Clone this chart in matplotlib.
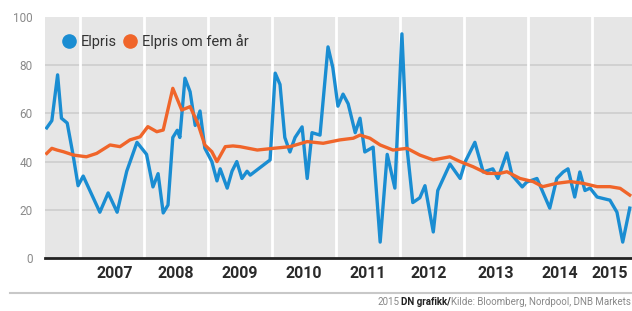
import matplotlib
matplotlib.use("Agg")
import matplotlib.pyplot as plt
from matplotlib.lines import Line2D

# values (decimal year, price)
elpris_t = [2006.48, 2006.56, 2006.65, 2006.71, 2006.80, 2006.89, 2006.97, 2007.05,
            2007.31, 2007.44, 2007.58, 2007.73, 2007.89, 2008.04, 2008.14, 2008.22,
            2008.30, 2008.375, 2008.45, 2008.52, 2008.56, 2008.64, 2008.72, 2008.80,
            2008.875, 2008.95, 2009.06, 2009.14, 2009.19, 2009.30, 2009.375, 2009.45,
            2009.53, 2009.61, 2009.66, 2009.97, 2010.05, 2010.125, 2010.20, 2010.28,
            2010.36, 2010.47, 2010.55, 2010.625, 2010.75, 2010.875, 2010.95, 2011.03,
            2011.11, 2011.19, 2011.30, 2011.375, 2011.45, 2011.58, 2011.69, 2011.80,
            2011.92, 2012.03, 2012.11, 2012.20, 2012.31, 2012.39, 2012.52, 2012.59,
            2012.78, 2012.94, 2013.02, 2013.17, 2013.30, 2013.45, 2013.53, 2013.67,
            2013.75, 2013.91, 2013.98, 2014.14, 2014.34, 2014.45, 2014.55, 2014.625,
            2014.73, 2014.81, 2014.89, 2014.97, 2015.08, 2015.28, 2015.39, 2015.48,
            2015.59]
elpris = [54, 57, 76, 58, 56, 43, 30, 34,
          19, 27, 19, 36, 48, 43, 29.5, 35,
          18.7, 22, 50, 53, 50, 74.6, 69, 55,
          61, 45.6, 40, 32, 37, 29, 36, 40,
          33, 36, 34.4, 40.7, 76.7, 72, 50, 44,
          50, 54.4, 33, 52, 51, 87.6, 79, 63,
          68, 64, 52, 58, 44, 46, 6.6, 43,
          29, 93, 45.6, 23, 25, 30, 10.8, 28,
          39, 33, 40, 48, 35.7, 37, 33, 43.6,
          34.4, 29.5, 31.5, 33, 20.7, 33, 35.7, 37,
          25.3, 35.7, 28, 29, 25.3, 24, 19, 6.6,
          20.7]

fem_t = [2006.48, 2006.56, 2006.64, 2006.74, 2006.90, 2007.10, 2007.26, 2007.47,
         2007.625, 2007.78, 2007.94, 2008.06, 2008.20, 2008.30, 2008.45, 2008.59,
         2008.72, 2008.84, 2008.95, 2009.06, 2009.14, 2009.27, 2009.39, 2009.50,
         2009.77, 2010.02, 2010.28, 2010.55, 2010.80, 2011.06, 2011.27, 2011.375,
         2011.53, 2011.69, 2011.89, 2012.11, 2012.31, 2012.52, 2012.78, 2012.94,
         2013.14, 2013.36, 2013.56, 2013.67, 2013.875, 2014.08, 2014.23, 2014.45,
         2014.66, 2014.86, 2015.08, 2015.28, 2015.44, 2015.59]
fem_aar = [43.4, 45.5, 44.8, 44.1, 42.7, 42, 43.4, 46.9,
           46.2, 49, 50.3, 54.5, 52.4, 53.1, 70.4, 61.4,
           62.8, 55.9, 46.9, 44.1, 40, 46.2, 46.5, 46.2,
           44.8, 45.5, 46.2, 48.3, 47.6, 49, 49.7, 51,
           49.7, 46.9, 44.8, 45.5, 42.7, 40.7, 42, 40,
           37.9, 35.1, 35.1, 35.8, 33, 31.7, 29.6, 31,
           31.7, 31, 29.6, 29.6, 28.9, 26.1]

years = [2007, 2008, 2009, 2010, 2011, 2012, 2013, 2014, 2015]
label_pos = [2007.55, 2008.5, 2009.5, 2010.5, 2011.5, 2012.45, 2013.5, 2014.5, 2015.28]
yticks = [0, 20, 40, 60, 80, 100]

blue = '#1a8dd2'
orange = '#f0652a'
fam = ['Roboto', 'DejaVu Sans']

fig = plt.figure(figsize=(6.32, 3.11), dpi=100)
ax = fig.add_axes([45/632, 53/311, 587/632, 241/311])
ax.set_facecolor('#e6e6e6')

for y in yticks[1:-1]:
    ax.axhline(y, color='#cdcdcd', lw=1.2, zorder=1)
for yr in years:
    ax.axvline(yr, color='white', lw=2, zorder=1)

ax.plot(elpris_t, elpris, color=blue, lw=2.4, zorder=3)
ax.plot(fem_t, fem_aar, color=orange, lw=2.4, zorder=4)

ax.set_xlim(2006.453, 2015.625)
ax.set_ylim(0, 100)
ax.set_yticks(yticks)
ax.set_yticklabels([str(v) for v in yticks], family=fam, fontsize=8.5, color='#8a8a8a')
ax.set_xticks(label_pos)
ax.set_xticklabels([str(y) for y in years], family=fam, fontsize=11.5,
                   fontweight='bold', color='#2a2a2a')
ax.tick_params(axis='both', length=0)
ax.tick_params(axis='y', pad=9)
ax.tick_params(axis='x', pad=6)
for s in ['top', 'right', 'left']:
    ax.spines[s].set_visible(False)
ax.spines['bottom'].set_color('#222222')
ax.spines['bottom'].set_linewidth(2)
ax.spines['bottom'].set_zorder(5)

handles = [Line2D([], [], ls='none', marker='o', ms=9.5, color=blue),
           Line2D([], [], ls='none', marker='o', ms=9.5, color=orange)]
leg = ax.legend(handles, ['Elpris', 'Elpris om fem år'], loc='upper left',
                ncol=2, frameon=False, handlelength=1.0, handletextpad=0.3,
                columnspacing=0.4, borderaxespad=0.75,
                prop={'family': fam, 'size': 10.5})
for t in leg.get_texts():
    t.set_color('#333333')

# footer, chained right to left
fig.add_artist(Line2D([10/632, 1], [18/311, 18/311], color='#c8c8c8', lw=1.5))
src = fig.text(0.998, 4/311, 'Kilde: Bloomberg, Nordpool, DNB Markets', ha='right',
               va='bottom', family=fam, fontsize=7, color='#888888')
dn = fig.text(0, 0, 'DN grafikk/', ha='right', va='bottom', family=fam,
              fontsize=7, fontweight='bold', color='#222222')
fig.canvas.draw()
bb = src.get_window_extent()
dn.set_position((bb.x0 / fig.bbox.width, 4/311))
fig.canvas.draw()
bb2 = dn.get_window_extent()
fig.text(bb2.x0 / fig.bbox.width - 0.003, 4/311, '2015', ha='right', va='bottom',
         family=fam, fontsize=7, color='#888888')

fig.savefig('out.png', dpi=100)
